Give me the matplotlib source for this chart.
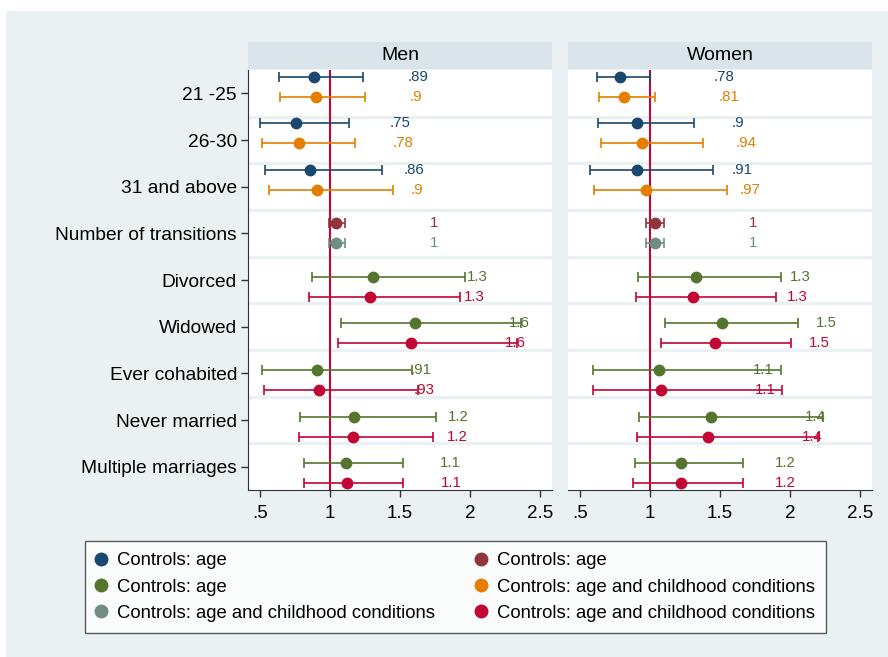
import matplotlib
matplotlib.use("Agg")
import matplotlib.pyplot as plt
from matplotlib.patches import Rectangle
from matplotlib.lines import Line2D

plt.rcParams["font.family"] = ["Liberation Sans", "DejaVu Sans"]

# rows of the coefficient plot (top to bottom)
rows = ["21 -25", "26-30", "31 and above", "Number of transitions", "Divorced",
        "Widowed", "Ever cohabited", "Never married", "Multiple marriages"]
panels = ["Men", "Women"]
xticks = [0.5, 1, 1.5, 2, 2.5]
xtick_labels = [".5", "1", "1.5", "2", "2.5"]

# series: blue / orange -> age groups, maroon / gray -> transitions, green / red -> marital status
age_rows = [0, 1, 2]
trans_rows = [3]
marital_rows = [4, 5, 6, 7, 8]

# Men
men_blue_est = [0.886, 0.755, 0.857]
men_blue_lo = [0.638, 0.500, 0.538]
men_blue_hi = [1.233, 1.133, 1.369]
men_blue_lab = [".89", ".75", ".86"]
men_orange_est = [0.900, 0.780, 0.905]
men_orange_lo = [0.643, 0.514, 0.567]
men_orange_hi = [1.250, 1.179, 1.448]
men_orange_lab = [".9", ".78", ".9"]
men_maroon_est = [1.045]
men_maroon_lo = [0.995]
men_maroon_hi = [1.107]
men_maroon_lab = ["1"]
men_gray_est = [1.045]
men_gray_lo = [0.990]
men_gray_hi = [1.107]
men_gray_lab = ["1"]
men_green_est = [1.310, 1.607, 0.905, 1.174, 1.114]
men_green_lo = [0.869, 1.079, 0.517, 0.786, 0.817]
men_green_hi = [1.964, 2.364, 1.583, 1.755, 1.524]
men_green_lab = ["1.3", "1.6", ".91", "1.2", "1.1"]
men_red_est = [1.286, 1.576, 0.924, 1.167, 1.119]
men_red_lo = [0.852, 1.055, 0.529, 0.781, 0.817]
men_red_hi = [1.929, 2.338, 1.631, 1.733, 1.524]
men_red_lab = ["1.3", "1.6", ".93", "1.2", "1.1"]

# Women
women_blue_est = [0.786, 0.910, 0.910]
women_blue_lo = [0.619, 0.631, 0.571]
women_blue_hi = [1.000, 1.314, 1.452]
women_blue_lab = [".78", ".9", ".91"]
women_orange_est = [0.817, 0.945, 0.971]
women_orange_lo = [0.638, 0.650, 0.602]
women_orange_hi = [1.036, 1.376, 1.552]
women_orange_lab = [".81", ".94", ".97"]
women_maroon_est = [1.036]
women_maroon_lo = [0.969]
women_maroon_hi = [1.102]
women_maroon_lab = ["1"]
women_gray_est = [1.036]
women_gray_lo = [0.969]
women_gray_hi = [1.102]
women_gray_lab = ["1"]
women_green_est = [1.329, 1.512, 1.067, 1.436, 1.221]
women_green_lo = [0.912, 1.110, 0.590, 0.921, 0.893]
women_green_hi = [1.936, 2.060, 1.933, 2.238, 1.667]
women_green_lab = ["1.3", "1.5", "1.1", "1.4", "1.2"]
women_red_est = [1.305, 1.464, 1.076, 1.412, 1.219]
women_red_lo = [0.900, 1.076, 0.595, 0.910, 0.880]
women_red_hi = [1.900, 2.005, 1.940, 2.202, 1.662]
women_red_lab = ["1.3", "1.5", "1.1", "1.4", "1.2"]

age_label = "Controls: age"
full_label = "Controls: age and childhood conditions"

# (plot number, colour, legend text, rows, men data, women data)
series = [
    (1, "#1a476f", age_label, age_rows,
     (men_blue_est, men_blue_lo, men_blue_hi, men_blue_lab),
     (women_blue_est, women_blue_lo, women_blue_hi, women_blue_lab)),
    (2, "#90353b", age_label, trans_rows,
     (men_maroon_est, men_maroon_lo, men_maroon_hi, men_maroon_lab),
     (women_maroon_est, women_maroon_lo, women_maroon_hi, women_maroon_lab)),
    (3, "#55752f", age_label, marital_rows,
     (men_green_est, men_green_lo, men_green_hi, men_green_lab),
     (women_green_est, women_green_lo, women_green_hi, women_green_lab)),
    (4, "#e37e00", full_label, age_rows,
     (men_orange_est, men_orange_lo, men_orange_hi, men_orange_lab),
     (women_orange_est, women_orange_lo, women_orange_hi, women_orange_lab)),
    (5, "#6e8e84", full_label, trans_rows,
     (men_gray_est, men_gray_lo, men_gray_hi, men_gray_lab),
     (women_gray_est, women_gray_lo, women_gray_hi, women_gray_lab)),
    (6, "#c10534", full_label, marital_rows,
     (men_red_est, men_red_lo, men_red_hi, men_red_lab),
     (women_red_est, women_red_lo, women_red_hi, women_red_lab)),
]

BG = "#eaf1f3"
STRIP = "#d9e5eb"
W, H = 888, 657

fig = plt.figure(figsize=(W / 100, H / 100), dpi=100)
fig.patch.set_facecolor("white")
fig.add_artist(Rectangle((6 / W, 0), 1 - 6 / W, 1 - 11 / H,
                         transform=fig.transFigure, facecolor=BG, edgecolor="none", zorder=-10))

axes = []
for k, name in enumerate(panels):
    left = [248, 568][k]
    ax = fig.add_axes([left / W, (H - 490) / H, 304 / W, 420 / H])
    ax.set_facecolor("white")
    ax.set_xlim(0.414, 2.586)
    ax.set_ylim(8.5, -0.5)

    # row separators
    for b in range(1, len(rows)):
        ax.axhline(b - 0.5, color=BG, lw=2.4, zorder=1)

    ax.axvline(1, color="#c10534", lw=1.5, zorder=2)

    for p, col, lab, rr, men, women in series:
        est, lo, hi, txt = men if k == 0 else women
        y = [r + (p - 3.5) / 7 for r in rr]
        err = [[e - l for e, l in zip(est, lo)], [h - e for e, h in zip(est, hi)]]
        ax.errorbar(est, y, xerr=err, fmt="o", color=col, ms=7.5, lw=1.2,
                    capsize=3.6, capthick=1.2, zorder=4)
        for e, yy, t in zip(est, y, txt):
            ax.text(e + 0.67, yy, t, color=col, fontsize=10.8,
                    ha="left", va="center", zorder=3)

    ax.set_xticks(xticks)
    ax.set_xticklabels(xtick_labels, fontsize=13.5)
    ax.tick_params(axis="x", length=5, width=1, pad=6, color="#333333")
    for s in ["top", "right"]:
        ax.spines[s].set_visible(False)
    ax.spines["bottom"].set_color("#333333")
    if k == 0:
        ax.set_yticks(range(len(rows)))
        ax.set_yticklabels(rows, fontsize=13.8)
        ax.tick_params(axis="y", length=5, width=1, pad=3, color="#333333")
        ax.spines["left"].set_color("#333333")
    else:
        ax.set_yticks([])
        ax.spines["left"].set_visible(False)

    # panel strip
    fig.add_artist(Rectangle((left / W, (H - 69) / H), 304 / W, 27 / H,
                             transform=fig.transFigure, facecolor=STRIP, edgecolor="none"))
    fig.text((left + 152) / W, (H - 56) / H, name, ha="center", va="center", fontsize=14)
    axes.append(ax)

# legend: filled column by column (blue, green, gray | maroon, orange, red)
order = [0, 2, 4, 1, 3, 5]
handles = [Line2D([], [], ls="none", marker="o", ms=9, color=series[i][1]) for i in order]
labels = [series[i][2] for i in order]
leg = fig.legend(handles, labels, ncol=2, loc="lower left", mode="expand",
                 bbox_to_anchor=(85 / W, (H - 633) / H, 741 / W, 91 / H),
                 fontsize=13.3, frameon=True, fancybox=False, borderpad=0.6,
                 handlelength=0.5, handletextpad=0.63, labelspacing=0.5,
                 borderaxespad=0)
leg.get_frame().set_edgecolor("#333333")
leg.get_frame().set_linewidth(1)

plt.savefig("out.png", dpi=100, facecolor=fig.get_facecolor())
